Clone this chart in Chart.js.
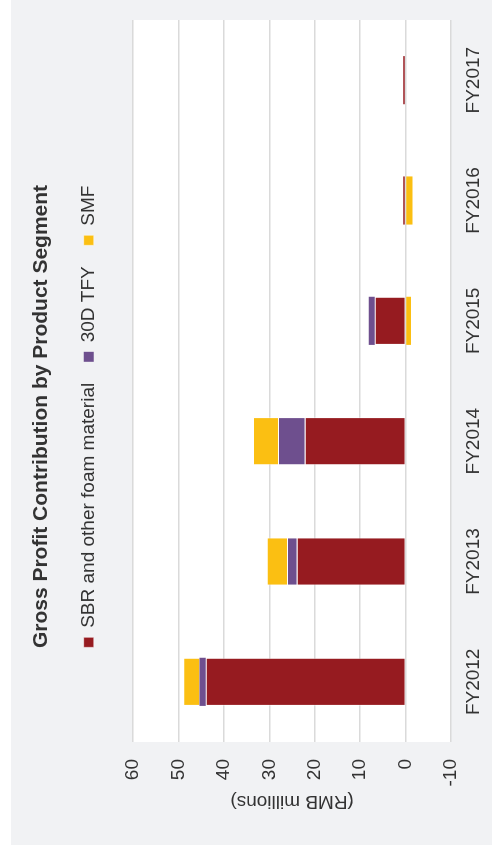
<!DOCTYPE html>
<html>
<head>
<meta charset="utf-8">
<script src="https://cdn.jsdelivr.net/npm/chart.js@4.4.1/dist/chart.umd.min.js"></script>
<style>
  html, body { margin: 0; padding: 0; background: #ffffff; overflow: hidden; }
  /* the chart is laid out as an 851x492 column chart and turned on its side */
  #frame {
    position: absolute; left: 0; top: 0;
    width: 851px; height: 492px;
    transform-origin: 0 0;
    transform: rotate(-90deg) translate(-851px, 0);
  }
  canvas { display: block; }
</style>
</head>
<body>
<div id="frame"><canvas id="chart" width="851" height="492"></canvas></div>
<script>
// Gross profit by product segment, RMB millions
const categories = ['FY2012', 'FY2013', 'FY2014', 'FY2015', 'FY2016', 'FY2017'];
const sbrFoam = [44.0, 24.0, 22.2, 6.8, 0.5, 0.5];
const tfy30d  = [1.4, 2.1, 5.9, 1.3, 0, 0];
const smf     = [3.6, 4.5, 5.5, -1.2, -1.5, 0];
const valueTicks = [-10, 0, 10, 20, 30, 40, 50, 60];
const seriesNames = ['SBR and other foam material', '30D TFY', 'SMF'];

Chart.defaults.font.family = "'Liberation Sans', Arial, sans-serif";
Chart.defaults.color = '#333333';

// grey panel behind everything, white plot area
const panel = {
  id: 'panel',
  beforeDraw(chart) {
    const { ctx, chartArea: a } = chart;
    ctx.save();
    ctx.fillStyle = '#ffffff';
    ctx.fillRect(0, 0, chart.width, chart.height);
    ctx.fillStyle = '#f1f2f4';
    ctx.fillRect(6, 11, chart.width - 6, chart.height - 11);
    ctx.fillStyle = '#ffffff';
    ctx.fillRect(a.left, a.top, a.right - a.left, a.bottom - a.top);
    ctx.restore();
  }
};

// extra room between the legend row and the plot
const legendGap = {
  id: 'legendGap',
  beforeUpdate(chart) {
    const lg = chart.legend;
    if (lg && !lg._gapWrapped) {
      const fit = lg.fit;
      lg.fit = function () { fit.call(this); this.height += 25; };
      lg._gapWrapped = true;
    }
  }
};

const border = 'rgba(255,255,255,0.45)';
// thin outline only on bars wide enough to carry it
const outline = ctx => (Math.abs(ctx.raw) >= 2 ? 1 : 0);

new Chart(document.getElementById('chart'), {
  type: 'bar',
  data: {
    labels: categories,
    datasets: [
      { label: seriesNames[0], data: sbrFoam, backgroundColor: '#961b20', borderColor: border, borderWidth: outline },
      { label: seriesNames[1], data: tfy30d,  backgroundColor: '#6e4f8e', borderColor: border, borderWidth: outline },
      { label: seriesNames[2], data: smf,     backgroundColor: '#fbbf12', borderColor: border, borderWidth: outline }
    ]
  },
  options: {
    responsive: false,
    animation: false,
    devicePixelRatio: 1,
    barPercentage: 0.5,
    categoryPercentage: 0.8,
    layout: { padding: { top: 0, left: 38, right: 20, bottom: 0 } },
    plugins: {
      tooltip: { enabled: false },
      title: {
        display: true,
        text: 'Gross Profit Contribution by Product Segment',
        font: { size: 21, weight: 'bold' },
        color: '#333333',
        padding: { top: 29, bottom: 4 }
      },
      legend: {
        display: true,
        position: 'top',
        labels: {
          font: { size: 19 },
          color: '#333333',
          boxWidth: 10,
          boxHeight: 10,
          padding: 21
        }
      }
    },
    scales: {
      x: {
        stacked: true,
        grid: { display: false, drawTicks: false },
        border: { display: false },
        ticks: { font: { size: 19 }, color: '#333333', padding: 11, maxRotation: 0 },
        afterFit(scale) { scale.height = 41; }
      },
      y: {
        stacked: true,
        min: valueTicks[0],
        max: valueTicks[valueTicks.length - 1],
        afterBuildTicks(scale) { scale.ticks = valueTicks.map(v => ({ value: v })); },
        afterFit(scale) { scale.width = 71; },
        grid: { color: '#dadada', lineWidth: 1.5, drawTicks: false },
        border: { display: false },
        ticks: { font: { size: 19 }, color: '#333333', padding: 17 },
        title: {
          display: true,
          text: '(RMB millions)',
          font: { size: 19 },
          color: '#333333',
          padding: { top: 0, bottom: 0 }
        }
      }
    }
  },
  plugins: [panel, legendGap]
});
</script>
</body>
</html>
